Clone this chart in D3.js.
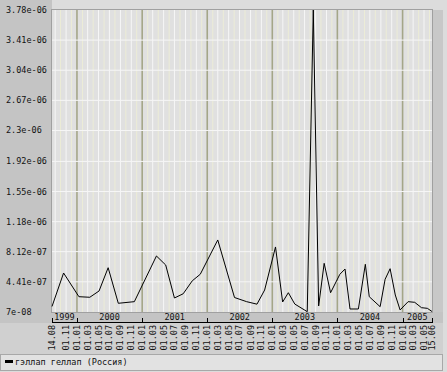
<!DOCTYPE html>
<html>
<head>
<meta charset="utf-8">
<script src="https://cdn.jsdelivr.net/npm/d3@7"></script>
<style>
  body { margin: 0; background: #dcdcdc; }
  text { font-family: "DejaVu Sans Mono", monospace; font-size: 8.5px; fill: #111; }
</style>
</head>
<body>
<svg id="chart" width="447" height="372"></svg>
<script>
const dates = [
  '1999-08-14', '1999-10-18', '2000-01-12', '2000-03-13', '2000-05-04', '2000-06-24',
  '2000-08-20', '2000-11-18', '2001-03-22', '2001-05-13', '2001-07-01', '2001-08-19',
  '2001-10-09', '2001-11-23', '2002-03-01', '2002-06-03', '2002-08-10', '2002-10-07',
  '2002-11-19', '2003-01-19', '2003-02-28', '2003-04-01', '2003-05-07', '2003-07-16',
  '2003-08-19', '2003-09-18', '2003-10-19', '2003-11-24', '2004-01-15', '2004-02-13',
  '2004-03-12', '2004-04-28', '2004-06-06', '2004-06-28', '2004-08-28', '2004-09-25',
  '2004-10-23', '2004-11-21', '2004-12-18', '2005-02-01', '2005-03-10', '2005-04-17',
  '2005-05-20', '2005-06-15'
];
const values = [
  1.38e-07, 5.49e-07, 2.58e-07, 2.51e-07, 3.28e-07, 6.14e-07,
  1.77e-07, 1.97e-07, 7.58e-07, 6.47e-07, 2.42e-07, 2.94e-07,
  4.53e-07, 5.34e-07, 9.55e-07, 2.48e-07, 1.97e-07, 1.66e-07,
  3.40e-07, 8.69e-07, 1.93e-07, 3.07e-07, 1.68e-07, 7.4e-08,
  3.78e-06, 1.44e-07, 6.68e-07, 3.07e-07, 5.33e-07, 5.98e-07,
  1.07e-07, 1.07e-07, 6.56e-07, 2.58e-07, 1.35e-07, 4.72e-07,
  6.02e-07, 2.79e-07, 9.5e-08, 1.97e-07, 1.89e-07, 1.23e-07,
  1.15e-07, 7.6e-08
];
const yTicks = [7e-08, 4.41e-07, 8.12e-07, 1.18e-06, 1.55e-06, 1.92e-06, 2.3e-06, 2.67e-06, 3.04e-06, 3.41e-06, 3.78e-06];
const yTickLabels = ['7e-08', '4.41e-07', '8.12e-07', '1.18e-06', '1.55e-06', '1.92e-06', '2.3e-06', '2.67e-06', '3.04e-06', '3.41e-06', '3.78e-06'];
const years = ['1999', '2000', '2001', '2002', '2003', '2004', '2005'];
const rangeStart = '1999-08-14';
const rangeEnd = '2005-06-15';
const seriesName = 'гэллап геллап (Россия)';

const parse = d3.utcParse('%Y-%m-%d');
const start = parse(rangeStart);
const end = parse(rangeEnd);
const data = dates.map((d, i) => ({ date: parse(d), value: values[i] }));

const plotL = 52, plotR = 432, plotT = 10, plotB = 312;
const x = d3.scaleUtc().domain([start, end]).range([plotL, plotR]);
const y = d3.scaleLinear().domain([yTicks[0], yTicks[yTicks.length - 1]]).range([plotB, plotT]);

const svg = d3.select('#chart');

// frame panels
svg.append('rect').attr('x', 0).attr('y', 0).attr('width', 447).attr('height', 372).attr('fill', '#dcdcdc');
svg.append('rect').attr('x', 0).attr('y', 0).attr('width', plotL).attr('height', 323).attr('fill', '#c4c4c4');
svg.append('rect').attr('x', plotR).attr('y', plotT).attr('width', 11).attr('height', plotB - plotT).attr('fill', '#c8c8c8');
svg.append('rect').attr('x', plotL).attr('y', plotB).attr('width', plotR - plotL + 11).attr('height', 11).attr('fill', '#c4c4c4');
svg.append('rect').attr('x', 0).attr('y', 323).attr('width', 443).attr('height', 31).attr('fill', '#d0d0d0');
svg.append('rect').attr('x', 0.5).attr('y', 354.5).attr('width', 442).attr('height', 16).attr('fill', '#e2e2e2').attr('stroke', '#a8a8a8');

// plot background and grid
svg.append('rect').attr('x', plotL).attr('y', plotT).attr('width', plotR - plotL).attr('height', plotB - plotT).attr('fill', '#e0e0e0');

const months = d3.utcMonth.range(d3.utcMonth.ceil(start), end);
svg.append('g').selectAll('line').data(months).join('line')
  .attr('x1', d => x(d)).attr('x2', d => x(d))
  .attr('y1', plotT).attr('y2', plotB)
  .attr('stroke', d => d.getUTCMonth() === 0 ? '#a4a688' : (d.getUTCMonth() % 2 === 0 ? '#f6f6f6' : '#ececd6'))
  .attr('stroke-width', d => d.getUTCMonth() === 0 ? 1.6 : 1);

svg.append('g').selectAll('line').data(yTicks.slice(1, -1)).join('line')
  .attr('x1', plotL).attr('x2', plotR)
  .attr('y1', d => y(d)).attr('y2', d => y(d))
  .attr('stroke', '#f6f6f6');

svg.append('rect').attr('x', plotL - 0.5).attr('y', plotT - 0.5).attr('width', plotR - plotL + 1).attr('height', plotB - plotT + 1)
  .attr('fill', 'none').attr('stroke', '#a0a0a0');

// series
const line = d3.line().x(d => x(d.date)).y(d => y(d.value));
svg.append('path').datum(data).attr('d', line).attr('fill', 'none').attr('stroke', '#000').attr('stroke-width', 1);

// y labels
svg.append('g').selectAll('text').data(yTicks).join('text')
  .attr('x', 6).attr('y', d => y(d)).attr('dy', '0.35em')
  .text((d, i) => yTickLabels[i]);

// year band
const yearAxis = svg.append('g');
yearAxis.append('line').attr('x1', plotL).attr('x2', plotR).attr('y1', 322.5).attr('y2', 322.5).attr('stroke', '#000');
const yearEdges = [start, ...d3.utcYear.range(d3.utcYear.ceil(start), end), end];
yearAxis.selectAll('line.tick').data(yearEdges).join('line').attr('class', 'tick')
  .attr('x1', d => Math.round(x(d)) + 0.5).attr('x2', d => Math.round(x(d)) + 0.5)
  .attr('y1', 318).attr('y2', 323).attr('stroke', '#000');
yearAxis.selectAll('text').data(years).join('text')
  .attr('x', d => {
    const a = Math.max(x(parse(d + '-01-01')), plotL);
    const b = Math.min(x(parse((+d + 1) + '-01-01')), plotR);
    return (a + b) / 2;
  })
  .attr('y', 317.5).attr('dy', '0.35em').attr('text-anchor', 'middle')
  .text(d => d);

// month labels (skip ticks that crowd the first date)
const monthTicks = [start, ...d3.utcMonth.every(2).range(start, end).filter(d => x(d) - x(start) > 6), end];
const fmt = d3.utcFormat('%d.%m');
svg.append('g').selectAll('text').data(monthTicks).join('text')
  .attr('transform', d => `translate(${x(d)},325) rotate(-90)`)
  .attr('text-anchor', 'end').attr('dy', '0.35em')
  .text(d => fmt(d));

// legend
svg.append('rect').attr('x', 5).attr('y', 360).attr('width', 8).attr('height', 3).attr('fill', '#000');
svg.append('text').attr('x', 15).attr('y', 362).attr('dy', '0.3em').text(seriesName);
</script>
</body>
</html>
